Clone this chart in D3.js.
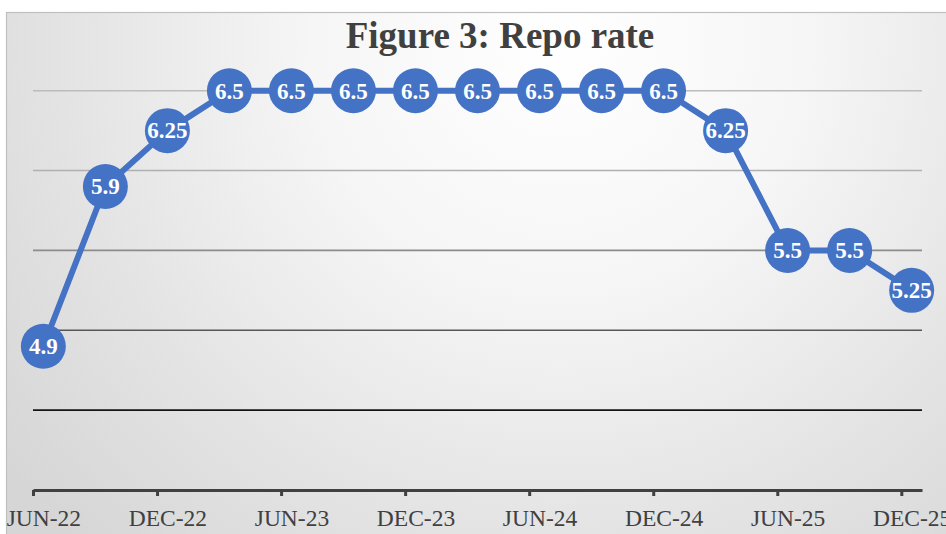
<!DOCTYPE html>
<html>
<head>
<meta charset="utf-8">
<script src="https://cdn.jsdelivr.net/npm/d3@7/dist/d3.min.js"></script>
<style>
  html, body { margin: 0; padding: 0; background: #ffffff; }
  svg { display: block; }
</style>
</head>
<body>
<div id="chart"></div>
<script>
// Quarterly repo rate readings (policy rate, %)
const months = ["2022-06", "2022-09", "2022-12", "2023-03", "2023-06", "2023-09", "2023-12",
                "2024-03", "2024-06", "2024-09", "2024-12", "2025-03", "2025-06", "2025-09", "2025-12"];
const repoRate = [4.9, 5.9, 6.25, 6.5, 6.5, 6.5, 6.5, 6.5, 6.5, 6.5, 6.5, 6.25, 5.5, 5.5, 5.25];
const tickMonths = ["2022-06", "2022-12", "2023-06", "2023-12", "2024-06", "2024-12", "2025-06", "2025-12"];
const tickLabels = ["JUN-22", "DEC-22", "JUN-23", "DEC-23", "JUN-24", "DEC-24", "JUN-25", "DEC-25"];
const gridValues = [4.5, 5.0, 5.5, 6.0, 6.5];
const gridColors = ["#141414", "#575757", "#8c8c8c", "#b0b0b0", "#bcbcbc"];
const title = "Figure 3: Repo rate";

const W = 946, H = 534;
const serif = "'Liberation Serif', 'Times New Roman', serif";

// month index counted from June 2022
function monthIndex(s) {
  const [y, m] = s.split("-").map(Number);
  return (y - 2022) * 12 + (m - 6);
}

const svg = d3.select("#chart").append("svg")
  .attr("width", W).attr("height", H);

const defs = svg.append("defs");
const grad = defs.append("radialGradient")
  .attr("id", "bg")
  .attr("gradientUnits", "userSpaceOnUse")
  .attr("cx", 560).attr("cy", 40).attr("r", 700);
grad.append("stop").attr("offset", "0%").attr("stop-color", "#ffffff");
grad.append("stop").attr("offset", "35%").attr("stop-color", "#f6f6f6");
grad.append("stop").attr("offset", "70%").attr("stop-color", "#e4e4e4");
grad.append("stop").attr("offset", "100%").attr("stop-color", "#d6d6d6");

// chart area with border
svg.append("rect")
  .attr("x", 6.5).attr("y", 12.5)
  .attr("width", W + 20).attr("height", H + 20)
  .attr("fill", "url(#bg)")
  .attr("stroke", "#bfbfbf").attr("stroke-width", 1.2);

const x = d3.scaleLinear()
  .domain([0, monthIndex("2025-12") + 1])
  .range([33, 922]);
const y = d3.scaleLinear()
  .domain([4, 6.5])
  .range([490, 90.7]);

// horizontal gridlines
svg.append("g").selectAll("line")
  .data(gridValues)
  .join("line")
  .attr("x1", x.range()[0]).attr("x2", x.range()[1])
  .attr("y1", d => y(d)).attr("y2", d => y(d))
  .attr("stroke", (d, i) => gridColors[i])
  .attr("stroke-width", 1.6);

// month axis: ticks at month starts, labels centred within the month
const xAxis = d3.axisBottom(x)
  .tickValues(tickMonths.map(monthIndex))
  .tickFormat((d, i) => tickLabels[i])
  .tickSize(6)
  .tickSizeOuter(0)
  .tickPadding(13);

const ax = svg.append("g")
  .attr("transform", `translate(0,${y(4)})`)
  .call(xAxis);
ax.select(".domain").attr("stroke", "#404040").attr("stroke-width", 3);
ax.selectAll(".tick line").attr("stroke", "#404040").attr("stroke-width", 3);
ax.selectAll(".tick text")
  .attr("x", x(0.5) - x(0))
  .attr("fill", "#404040")
  .attr("font-family", serif)
  .attr("font-size", 23.5);

// series line
const pts = months.map((m, i) => ({ t: monthIndex(m) + 0.5, v: repoRate[i] }));
const line = d3.line().x(d => x(d.t)).y(d => y(d.v));

svg.append("path")
  .datum(pts)
  .attr("d", line)
  .attr("fill", "none")
  .attr("stroke", "#4472c4")
  .attr("stroke-width", 6)
  .attr("stroke-linejoin", "round");

// markers with value labels
const mk = svg.append("g").selectAll("g")
  .data(pts)
  .join("g")
  .attr("transform", d => `translate(${x(d.t)},${y(d.v)})`);
mk.append("circle")
  .attr("r", 22.5)
  .attr("fill", "#4472c4");
mk.append("text")
  .attr("text-anchor", "middle")
  .attr("dy", "0.34em")
  .attr("fill", "#ffffff")
  .attr("font-family", serif)
  .attr("font-weight", "bold")
  .attr("font-size", 23)
  .text(d => d.v);

// title
svg.append("text")
  .attr("x", 500).attr("y", 48)
  .attr("text-anchor", "middle")
  .attr("fill", "#404040")
  .attr("font-family", serif)
  .attr("font-weight", "bold")
  .attr("font-size", 37)
  .text(title);
</script>
</body>
</html>
